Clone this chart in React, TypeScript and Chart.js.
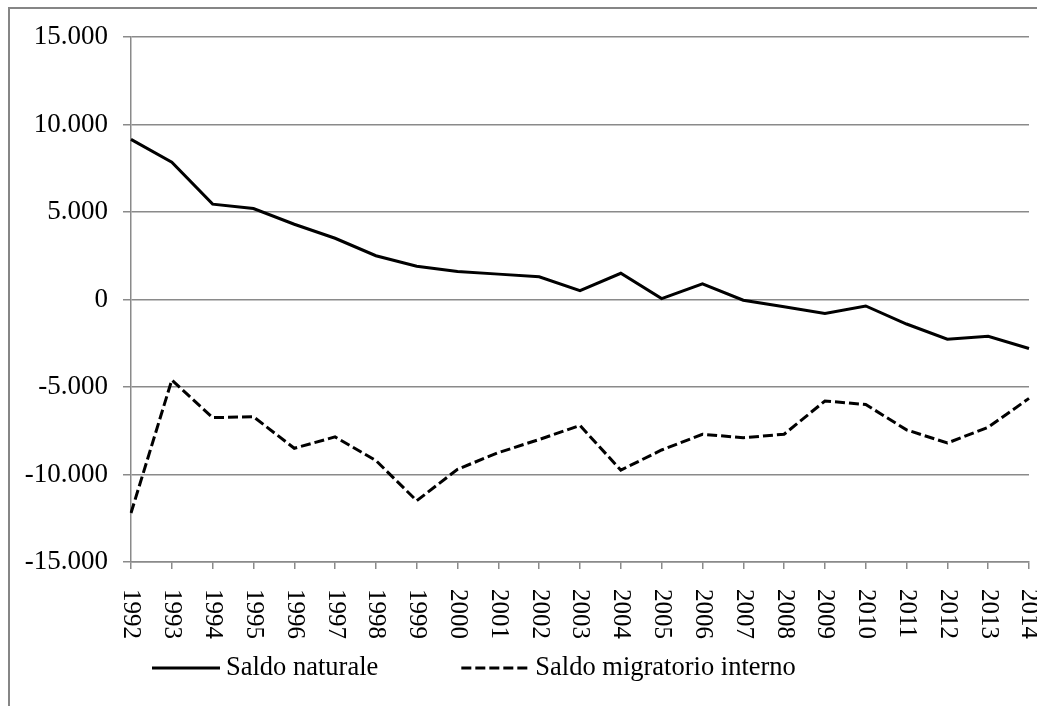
import React, { useEffect, useRef } from "react";
import { Chart, registerables } from "chart.js";

Chart.register(...registerables);

const years = ["1992", "1993", "1994", "1995", "1996", "1997", "1998", "1999", "2000", "2001", "2002", "2003", "2004", "2005", "2006", "2007", "2008", "2009", "2010", "2011", "2012", "2013", "2014"];
const saldoNaturale = [9150, 7850, 5450, 5200, 4300, 3500, 2500, 1900, 1600, 1450, 1300, 500, 1500, 50, 900, -40, -420, -800, -370, -1400, -2270, -2100, -2800];
const saldoMigratorioInterno = [-12200, -4600, -6750, -6700, -8500, -7850, -9200, -11500, -9700, -8750, -8000, -7200, -9750, -8600, -7700, -7900, -7700, -5800, -6000, -7450, -8200, -7300, -5650];
const seriesLabels = ["Saldo naturale", "Saldo migratorio interno"];
const yMin = -15000;
const yMax = 15000;
const yStep = 5000;

const FONT = "'Liberation Serif', 'Times New Roman', serif";
const GRID = "#8a8a8a";

function formatIt(v: number): string {
  const neg = v < 0;
  const s = Math.abs(Math.round(v)).toString();
  const withDots = s.replace(/\B(?=(\d{3})+(?!\d))/g, ".");
  return (neg ? "-" : "") + withDots;
}

const decorPlugin = {
  id: "decor",
  beforeDraw(chart: any) {
    const ctx = chart.ctx;
    ctx.save();
    ctx.strokeStyle = "#868686";
    ctx.lineWidth = 2;
    ctx.beginPath();
    ctx.moveTo(9, chart.height);
    ctx.lineTo(9, 8);
    ctx.lineTo(chart.width, 8);
    ctx.stroke();
    ctx.restore();
  },
  afterDraw(chart: any) {
    const ctx = chart.ctx;
    const xs = chart.scales.x;
    ctx.save();
    // rotated x labels (reading top to bottom)
    ctx.fillStyle = "#000";
    ctx.font = `25px ${FONT}`;
    ctx.textAlign = "left";
    ctx.textBaseline = "middle";
    years.forEach((lab, i) => {
      const x = xs.getPixelForValue(i);
      ctx.save();
      ctx.translate(x, xs.top + 27);
      ctx.rotate(Math.PI / 2);
      ctx.fillText(lab, 0, 0);
      ctx.restore();
    });
    // legend
    ctx.font = `26.5px ${FONT}`;
    const ly = 668;
    const sampleLen = 68;
    let x = 152;
    chart.data.datasets.forEach((ds: any) => {
      ctx.save();
      ctx.strokeStyle = "#000";
      ctx.lineWidth = 3;
      ctx.setLineDash(ds.borderDash || []);
      ctx.beginPath();
      ctx.moveTo(x, ly);
      ctx.lineTo(x + sampleLen, ly);
      ctx.stroke();
      ctx.restore();
      const tx = x + sampleLen + 6;
      ctx.fillText(ds.label, tx, ly);
      x = tx + ctx.measureText(ds.label).width + 83;
    });
    ctx.restore();
  },
};

export default function App() {
  const ref = useRef<HTMLCanvasElement>(null);
  useEffect(() => {
    if (!ref.current) return;
    const chart = new Chart(ref.current, {
      type: "line",
      data: {
        labels: years,
        datasets: [
          {
            label: seriesLabels[0],
            data: saldoNaturale,
            borderColor: "#000",
            backgroundColor: "#000",
            borderWidth: 3,
            pointRadius: 0,
            tension: 0,
            fill: false,
          },
          {
            label: seriesLabels[1],
            data: saldoMigratorioInterno,
            borderColor: "#000",
            backgroundColor: "#000",
            borderWidth: 3,
            borderDash: [10, 4],
            pointRadius: 0,
            tension: 0,
            fill: false,
          },
        ],
      },
      options: {
        responsive: false,
        animation: false,
        layout: { padding: { left: 0, right: 8, top: 37, bottom: 0 } },
        plugins: {
          legend: { display: false },
          tooltip: { enabled: false },
          title: { display: false },
        },
        scales: {
          x: {
            type: "category",
            offset: false,
            grid: {
              drawOnChartArea: false,
              drawTicks: true,
              tickLength: 7,
              color: GRID,
              lineWidth: 1.5,
            },
            border: { display: true, color: GRID, width: 1.5 },
            ticks: { display: false },
            afterFit: (s: any) => {
              s.height = 706 - 562;
            },
          },
          y: {
            min: yMin,
            max: yMax,
            grid: {
              color: GRID,
              lineWidth: 1.5,
              drawTicks: true,
              tickLength: 8,
            },
            border: { display: true, color: GRID, width: 1.5 },
            ticks: {
              stepSize: yStep,
              padding: 15,
              color: "#000",
              font: { family: FONT, size: 27 },
              callback: (v: any) => formatIt(Number(v)),
            },
            afterFit: (s: any) => {
              s.width = 131;
            },
          },
        },
      },
      plugins: [decorPlugin],
    });
    return () => chart.destroy();
  }, []);
  return (
    <div style={{ position: "absolute", left: 0, top: 0, width: 1037, height: 706, background: "#fff" }}>
      <canvas ref={ref} width={1037} height={706} style={{ display: "block" }} />
    </div>
  );
}
